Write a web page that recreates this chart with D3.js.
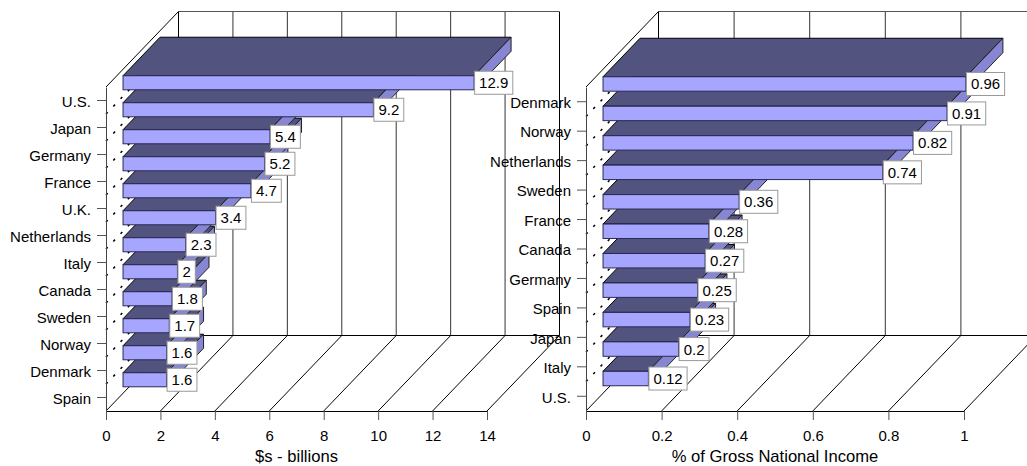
<!DOCTYPE html>
<html>
<head>
<meta charset="utf-8">
<script src="https://d3js.org/d3.v7.min.js"></script>
<style>
body { margin: 0; background: #fff; }
svg { display: block; }
text { font-family: "Liberation Sans", Arial, sans-serif; fill: #000; }
</style>
</head>
<body>
<div id="chart"></div>
<script>
var billionsCategories = ["U.S.", "Japan", "Germany", "France", "U.K.", "Netherlands", "Italy", "Canada", "Sweden", "Norway", "Denmark", "Spain"];
var billionsValues = [12.9, 9.2, 5.4, 5.2, 4.7, 3.4, 2.3, 2, 1.8, 1.7, 1.6, 1.6];
var billionsTicks = [0, 2, 4, 6, 8, 10, 12, 14];

var gniCategories = ["Denmark", "Norway", "Netherlands", "Sweden", "France", "Canada", "Germany", "Spain", "Japan", "Italy", "U.S."];
var gniValues = [0.96, 0.91, 0.82, 0.74, 0.36, 0.28, 0.27, 0.25, 0.23, 0.2, 0.12];
var gniTicks = [0, 0.2, 0.4, 0.6, 0.8, 1];

var width = 1027,
	height = 466,
	depthX = 72.5,
	depthY = 75.5,
	barFront = 0.235,
	barBack = 0.745,
	wallTop = 87,
	floorY = 411;

var svg = d3.select("#chart").append("svg")
	.attr("width", width)
	.attr("height", height);

function pts(list) {
	return list.map(p => p.join(",")).join(" ");
}

function drawPanel(opts) {
	var x = d3.scaleLinear().domain(opts.domain).range(opts.range);
	var y = d3.scaleBand().domain(opts.categories).range([wallTop, floorY])
		.paddingInner(opts.padding).paddingOuter(opts.padding / 2);
	var step = y.step();
	var x0 = opts.range[0];
	var g = svg.append("g");

	// back wall and floor grid
	opts.ticks.forEach(t => {
		var px = x(t);
		g.append("line").attr("x1", px + depthX).attr("x2", px + depthX)
			.attr("y1", wallTop - depthY).attr("y2", floorY - depthY)
			.attr("stroke", t == 0 || t == opts.domain[1] ? "#000" : "#333");
		g.append("line").attr("x1", px).attr("y1", floorY)
			.attr("x2", px + depthX).attr("y2", floorY - depthY)
			.attr("stroke", "#000");
	});
	g.append("line").attr("x1", x0 + depthX).attr("x2", x(opts.domain[1]) + depthX)
		.attr("y1", wallTop - depthY).attr("y2", wallTop - depthY).attr("stroke", "#555");
	g.append("line").attr("x1", x0 + depthX).attr("x2", x(opts.domain[1]) + depthX)
		.attr("y1", floorY - depthY).attr("y2", floorY - depthY).attr("stroke", "#000");
	g.append("line").attr("x1", x0).attr("y1", wallTop)
		.attr("x2", x0 + depthX).attr("y2", wallTop - depthY).attr("stroke", "#000");

	// dashed category lines on the side wall
	opts.categories.slice(1).forEach(c => {
		g.append("line").attr("x1", x0).attr("y1", y(c) - (step - y.bandwidth()) / 2)
			.attr("x2", x0 + depthX).attr("y2", y(c) - (step - y.bandwidth()) / 2 - depthY)
			.attr("stroke", "#000").attr("stroke-width", 1.5).attr("stroke-dasharray", "2.5 8");
	});

	// axes
	var xAxis = d3.axisBottom(x).tickValues(opts.ticks).tickSize(9).tickPadding(10)
		.tickFormat(d => String(d));
	var yAxis = d3.axisLeft(y).tickSize(9).tickPadding(6).tickSizeOuter(0);
	var gx = g.append("g").attr("transform", "translate(0," + floorY + ")").call(xAxis);
	var gy = g.append("g").attr("transform", "translate(" + x0 + ",0)").call(yAxis);
	[gx, gy].forEach(a => {
		a.selectAll("text").style("font-size", "15px").style("font-family", "'Liberation Sans', Arial, sans-serif").attr("fill", "#000");
		a.selectAll(".tick line").attr("stroke", "#555");
	});
	gy.selectAll("text").attr("dy", "0.42em");
	gx.select(".domain").attr("stroke", "#000");
	gy.select(".domain").attr("stroke", "#444");

	g.append("text").attr("x", (opts.range[0] + opts.range[1]) / 2).attr("y", 462)
		.attr("text-anchor", "middle").style("font-size", "16.6px").text(opts.title);

	// bars, last one first so the upper bars sit on top
	var shiftX = (barBack - barFront) * depthX,
		shiftY = (barBack - barFront) * depthY,
		frontX = x0 + barFront * depthX;
	var bars = opts.values.map((v, i) => ({
		value: v,
		left: frontX,
		right: frontX + x(v) - x0,
		top: y(opts.categories[i]) - barFront * depthY,
		h: y.bandwidth()
	}));

	bars.slice().reverse().forEach(b => {
		g.append("polygon")
			.attr("points", pts([[b.left, b.top], [b.left + shiftX, b.top - shiftY], [b.right + shiftX, b.top - shiftY], [b.right, b.top]]))
			.attr("fill", "#53537f").attr("stroke", "#000");
		g.append("polygon")
			.attr("points", pts([[b.right, b.top], [b.right + shiftX, b.top - shiftY], [b.right + shiftX, b.top - shiftY + b.h], [b.right, b.top + b.h]]))
			.attr("fill", "#8686d2").attr("stroke", "#222");
		g.append("rect").attr("x", b.left).attr("y", b.top)
			.attr("width", b.right - b.left).attr("height", b.h)
			.attr("fill", "#a6a6ff").attr("stroke", "#2a2a55");
	});

	// value boxes
	bars.slice().reverse().forEach(b => {
		var lab = g.append("g");
		var t = lab.append("text").attr("x", b.right + 5).attr("y", b.top + b.h / 2 + 5.5)
			.style("font-size", "15px").text(b.value);
		var w = t.node().getComputedTextLength() + 9;
		lab.insert("rect", "text").attr("x", b.right + 0.5).attr("y", b.top + b.h / 2 - 11.5)
			.attr("width", w).attr("height", 23)
			.attr("fill", "#fff").attr("stroke", "#999");
	});
}

drawPanel({
	categories: billionsCategories,
	values: billionsValues,
	ticks: billionsTicks,
	domain: [0, 14],
	range: [106, 487],
	padding: 0.48,
	title: "$s - billions"
});

drawPanel({
	categories: gniCategories,
	values: gniValues,
	ticks: gniTicks,
	domain: [0, 1],
	range: [586, 964],
	padding: 0.51,
	title: "% of Gross National Income"
});
</script>
</body>
</html>
